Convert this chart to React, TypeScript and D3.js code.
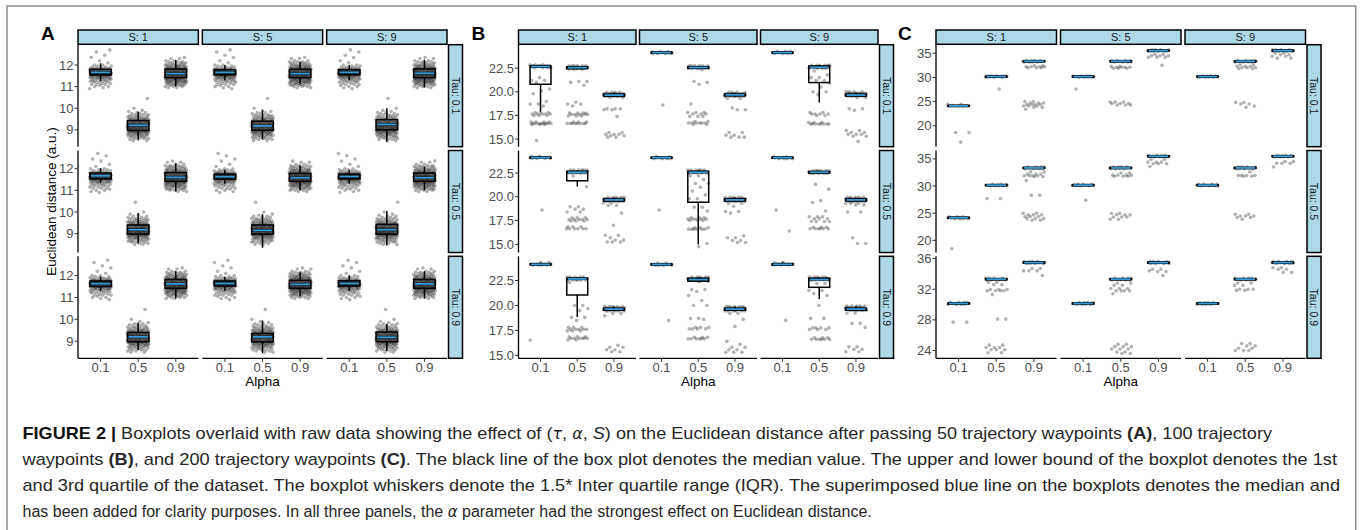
import React from 'react';
import * as d3 from 'd3';

// ---------- categories ----------
const ALPHA_LEVELS = ['0.1', '0.5', '0.9'];
const S_LEVELS = ['S: 1', 'S: 5', 'S: 9'];
const TAU_LEVELS = ['Tau: 0.1', 'Tau: 0.5', 'Tau: 0.9'];

// ---------- Panel A (50 waypoints) ----------
const A_TICKS = [9, 10, 11, 12];
const A_DOMAINS = [[8.22, 12.94], [8.13, 12.84], [8.22, 12.88]];
// boxes[tau][S][alpha] = [lower whisker, q1, median, q3, upper whisker]
const A_BOXES = [
  [[[11.25, 11.54, 11.66, 11.8, 12.08], [8.55, 8.97, 9.21, 9.43, 9.84], [11.0, 11.42, 11.6, 11.81, 12.23]],
   [[11.3, 11.55, 11.66, 11.78, 12.0], [8.55, 8.98, 9.18, 9.4, 9.9], [11.1, 11.42, 11.6, 11.8, 12.15]],
   [[11.3, 11.55, 11.66, 11.78, 12.0], [8.45, 9.0, 9.25, 9.47, 10.0], [10.95, 11.42, 11.62, 11.82, 12.25]]],
  [[[11.36, 11.53, 11.67, 11.8, 12.03], [8.55, 8.98, 9.18, 9.4, 9.95], [10.95, 11.42, 11.6, 11.82, 12.25]],
   [[11.3, 11.52, 11.63, 11.75, 11.95], [8.35, 8.98, 9.15, 9.4, 9.9], [11.0, 11.42, 11.58, 11.78, 12.15]],
   [[11.3, 11.53, 11.64, 11.75, 11.95], [8.45, 8.98, 9.18, 9.43, 10.05], [11.0, 11.42, 11.58, 11.8, 12.1]]],
  [[[11.3, 11.5, 11.63, 11.75, 11.95], [8.6, 8.98, 9.2, 9.4, 9.85], [10.95, 11.42, 11.62, 11.82, 12.2]],
   [[11.3, 11.52, 11.64, 11.75, 11.95], [8.45, 8.97, 9.2, 9.35, 9.95], [11.05, 11.42, 11.6, 11.78, 12.15]],
   [[11.3, 11.52, 11.64, 11.76, 12.0], [8.55, 8.98, 9.18, 9.42, 9.8], [10.95, 11.42, 11.62, 11.82, 12.2]]],
];
// raw observations as [value, count]
const A_PTS_01 = [[10.9, 1], [10.95, 1], [11.0, 2], [11.05, 1], [11.1, 3], [11.15, 2], [11.2, 3], [11.25, 3], [11.3, 4], [11.35, 4], [11.4, 6], [11.45, 6], [11.5, 8], [11.55, 10], [11.6, 12], [11.65, 12], [11.7, 10], [11.75, 8], [11.8, 6], [11.85, 4], [11.9, 3], [11.95, 2], [12.0, 2], [12.1, 1], [12.2, 1], [12.35, 1], [12.45, 1], [12.6, 1], [12.7, 1]];
const A_PTS_05 = [[8.5, 2], [8.55, 2], [8.6, 3], [8.65, 3], [8.7, 4], [8.75, 4], [8.8, 5], [8.85, 6], [8.9, 7], [8.95, 8], [9.0, 9], [9.05, 9], [9.1, 10], [9.15, 10], [9.2, 10], [9.25, 10], [9.3, 9], [9.35, 8], [9.4, 7], [9.45, 6], [9.5, 5], [9.55, 4], [9.6, 4], [9.65, 3], [9.7, 3], [9.75, 2], [9.8, 2], [9.85, 1], [9.9, 1], [10.0, 1], [10.45, 1]];
const A_PTS_09 = [[10.95, 2], [11.0, 3], [11.05, 3], [11.1, 4], [11.15, 5], [11.2, 6], [11.25, 6], [11.3, 7], [11.35, 8], [11.4, 9], [11.45, 9], [11.5, 10], [11.55, 10], [11.6, 10], [11.65, 10], [11.7, 9], [11.75, 9], [11.8, 8], [11.85, 7], [11.9, 6], [11.95, 5], [12.0, 4], [12.05, 4], [12.1, 3], [12.15, 3], [12.2, 2], [12.3, 2], [12.35, 1]];
const A_POINTS = [A_PTS_01, A_PTS_05, A_PTS_09];

// ---------- Panel B (100 waypoints) ----------
const B_TICKS = [15, 17.5, 20, 22.5];
const B_DOMAINS = [[14.19, 24.99], [14.15, 24.86], [14.7, 24.93]];
const B_BOXES = [
  [[[17.9, 20.8, 22.67, 22.74, 22.85], [22.35, 22.45, 22.56, 22.65, 22.75], [19.45, 19.55, 19.65, 19.75, 19.9]],
   [[24.05, 24.1, 24.15, 24.2, 24.25], [22.4, 22.48, 22.58, 22.66, 22.75], [19.5, 19.58, 19.68, 19.75, 19.9]],
   [[24.05, 24.1, 24.15, 24.2, 24.3], [18.87, 20.98, 22.6, 22.74, 22.85], [19.45, 19.55, 19.66, 19.75, 19.95]]],
  [[[24.0, 24.05, 24.1, 24.15, 24.25], [21.08, 21.68, 22.57, 22.67, 22.8], [19.45, 19.55, 19.67, 19.75, 19.9]],
   [[24.0, 24.05, 24.1, 24.15, 24.2], [15.0, 19.43, 22.57, 22.67, 22.8], [19.45, 19.55, 19.67, 19.78, 19.95]],
   [[24.0, 24.05, 24.1, 24.15, 24.2], [22.4, 22.47, 22.57, 22.65, 22.75], [19.45, 19.56, 19.67, 19.77, 19.9]]],
  [[[24.0, 24.07, 24.12, 24.17, 24.3], [18.85, 21.05, 22.66, 22.73, 22.85], [19.4, 19.52, 19.63, 19.72, 19.9]],
   [[24.0, 24.07, 24.12, 24.17, 24.25], [22.3, 22.43, 22.6, 22.73, 22.85], [19.4, 19.52, 19.63, 19.72, 19.9]],
   [[24.0, 24.07, 24.12, 24.17, 24.35], [20.65, 21.82, 22.6, 22.73, 22.85], [19.4, 19.52, 19.63, 19.72, 19.95]]],
];
const B_POINTS = [
  [[[[22.85, 3], [22.75, 10], [22.65, 8], [22.55, 4], [21.5, 1], [21.2, 2], [21.0, 1], [20.3, 1], [20.1, 1], [19.8, 1], [19.0, 1], [18.7, 2], [18.5, 1], [17.8, 3], [17.65, 5], [17.5, 3], [16.8, 4], [16.65, 8], [16.55, 3], [14.85, 1]],
    [[22.75, 6], [22.6, 10], [22.5, 8], [22.4, 3], [21.1, 2], [21.0, 1], [20.7, 1], [18.9, 1], [18.7, 2], [18.5, 1], [17.75, 4], [17.6, 5], [17.45, 3], [16.8, 3], [16.65, 8]],
    [[19.95, 4], [19.8, 10], [19.65, 12], [19.5, 6], [19.4, 2], [18.2, 3], [18.1, 2], [17.4, 1], [15.7, 2], [15.5, 3], [15.35, 2], [15.2, 2]]],
   [[[24.25, 3], [24.15, 12], [24.05, 4], [18.6, 1]],
    [[22.75, 6], [22.6, 10], [22.5, 6], [22.35, 1], [21.1, 1], [21.0, 1], [20.8, 1], [18.7, 1], [17.8, 3], [17.65, 3], [17.4, 3], [16.85, 2], [16.7, 6], [16.55, 2]],
    [[19.95, 4], [19.8, 10], [19.65, 12], [19.5, 6], [19.3, 2], [18.3, 1], [18.1, 2], [15.7, 2], [15.4, 2], [15.2, 3]]],
   [[[24.3, 3], [24.15, 12], [24.05, 4]],
    [[22.8, 6], [22.65, 10], [22.5, 4], [22.2, 1], [21.8, 1], [21.5, 2], [21.2, 2], [20.9, 1], [20.5, 1], [20.0, 2], [19.7, 1], [17.8, 2], [17.65, 4], [17.5, 2], [16.75, 3], [16.6, 8]],
    [[20.0, 4], [19.85, 10], [19.7, 12], [19.55, 6], [19.4, 2], [18.2, 2], [18.05, 1], [15.9, 2], [15.7, 2], [15.5, 3], [15.3, 2], [14.75, 1]]]],
  [[[[24.25, 2], [24.12, 12], [24.02, 4], [18.6, 1]],
    [[22.8, 6], [22.65, 10], [22.5, 6], [22.2, 1], [21.05, 1], [18.95, 2], [18.7, 2], [18.4, 2], [17.8, 3], [17.6, 5], [17.45, 3], [16.85, 3], [16.65, 6]],
    [[19.95, 5], [19.8, 10], [19.65, 12], [19.5, 6], [19.35, 2], [19.1, 2], [18.3, 1], [17.0, 1], [15.95, 2], [15.7, 1], [15.45, 2], [15.25, 3]]],
   [[[24.2, 2], [24.1, 12], [24.0, 4], [18.6, 1]],
    [[22.8, 6], [22.65, 10], [22.5, 5], [22.2, 2], [21.8, 1], [21.4, 2], [21.0, 1], [20.6, 1], [20.2, 1], [19.8, 2], [18.9, 2], [18.5, 1], [17.8, 3], [17.65, 5], [17.5, 3], [16.75, 3], [16.6, 6], [15.1, 1], [14.75, 1]],
    [[19.95, 5], [19.8, 10], [19.65, 12], [19.5, 6], [19.3, 2], [19.0, 1], [18.45, 2], [18.3, 1], [15.9, 1], [15.7, 2], [15.4, 2], [15.2, 2]]],
   [[[24.2, 2], [24.1, 12], [24.0, 4], [18.6, 1], [16.4, 1]],
    [[22.75, 6], [22.6, 10], [22.45, 5], [21.3, 1], [20.8, 1], [19.6, 1], [19.4, 1], [18.5, 1], [17.9, 3], [17.7, 3], [17.4, 4], [16.8, 3], [16.65, 6]],
    [[19.95, 5], [19.8, 10], [19.65, 12], [19.5, 6], [19.3, 3], [19.15, 2], [18.4, 2], [15.7, 1], [15.1, 2]]]],
  [[[[24.3, 2], [24.15, 12], [24.05, 4], [16.5, 1]],
    [[22.85, 5], [22.7, 10], [22.55, 6], [22.3, 1], [20.0, 2], [19.7, 1], [19.5, 1], [18.8, 2], [18.5, 1], [17.8, 3], [17.6, 5], [17.45, 3], [16.85, 3], [16.7, 6], [16.55, 2]],
    [[19.9, 5], [19.75, 10], [19.6, 12], [19.45, 6], [19.2, 2], [18.95, 1], [16.0, 1], [15.8, 2], [15.55, 2], [15.35, 2]]],
   [[[24.25, 2], [24.12, 12], [24.02, 4], [18.5, 1]],
    [[22.85, 5], [22.7, 10], [22.55, 6], [22.4, 2], [21.6, 2], [21.4, 1], [21.0, 1], [20.5, 1], [20.0, 2], [18.7, 2], [18.6, 1], [17.8, 3], [17.65, 4], [16.8, 3], [16.65, 6]],
    [[19.9, 5], [19.75, 10], [19.6, 12], [19.45, 6], [19.2, 2], [18.6, 1], [17.9, 1], [16.4, 1], [16.1, 1], [15.8, 2], [15.55, 2], [15.3, 3]]],
   [[[24.3, 2], [24.15, 12], [24.05, 4], [18.5, 1]],
    [[22.85, 5], [22.7, 10], [22.55, 6], [22.2, 2], [21.5, 2], [21.2, 1], [21.0, 1], [20.0, 1], [18.7, 2], [17.75, 4], [17.6, 3], [16.75, 3], [16.6, 6]],
    [[19.95, 5], [19.8, 10], [19.65, 12], [19.5, 6], [19.25, 2], [18.2, 2], [17.8, 1], [15.85, 2], [15.6, 2], [15.35, 2]]]],
];

// ---------- Panel C (200 waypoints) ----------
const C_TICKS_TOP = [20, 25, 30, 35];
const C_TICKS_BOTTOM = [24, 28, 32, 36];
const C_DOMAINS = [[15.66, 36.78], [17.77, 36.54], [22.98, 36.3]];
const C_BOXES = [
  [[[24.0, 24.05, 24.11, 24.17, 24.25], [30.05, 30.1, 30.17, 30.24, 30.3], [33.2, 33.27, 33.35, 33.42, 33.5]],
   [[30.05, 30.1, 30.17, 30.24, 30.3], [33.2, 33.27, 33.35, 33.42, 33.5], [35.4, 35.46, 35.54, 35.62, 35.7]],
   [[30.05, 30.1, 30.17, 30.24, 30.3], [33.2, 33.27, 33.35, 33.42, 33.5], [35.4, 35.46, 35.54, 35.62, 35.7]]],
  [[[24.0, 24.08, 24.15, 24.22, 24.3], [30.05, 30.1, 30.16, 30.23, 30.3], [33.2, 33.26, 33.33, 33.4, 33.5]],
   [[30.05, 30.1, 30.16, 30.23, 30.3], [33.2, 33.26, 33.33, 33.4, 33.5], [35.35, 35.41, 35.48, 35.56, 35.65]],
   [[30.05, 30.1, 30.16, 30.23, 30.3], [33.2, 33.26, 33.33, 33.4, 33.5], [35.35, 35.41, 35.48, 35.56, 35.65]]],
  [[[30.0, 30.08, 30.14, 30.2, 30.3], [33.2, 33.25, 33.31, 33.38, 33.45], [35.35, 35.41, 35.47, 35.54, 35.6]],
   [[30.0, 30.08, 30.14, 30.2, 30.25], [33.2, 33.25, 33.31, 33.38, 33.45], [35.35, 35.41, 35.47, 35.54, 35.6]],
   [[30.0, 30.08, 30.14, 30.2, 30.25], [33.2, 33.25, 33.31, 33.38, 33.45], [35.35, 35.41, 35.47, 35.54, 35.6]]],
];
const C_POINTS = [
  [[[[24.45, 2], [24.2, 10], [24.05, 8], [18.6, 2], [16.6, 1]],
    [[30.3, 4], [30.17, 12], [30.05, 4], [27.6, 1]],
    [[33.5, 4], [33.35, 12], [33.2, 4], [32.4, 2], [32.2, 4], [32.0, 3], [25.0, 2], [24.7, 3], [24.4, 4], [24.1, 3], [23.8, 2], [23.4, 1]]],
   [[[30.3, 4], [30.17, 12], [30.05, 4], [27.6, 1]],
    [[33.5, 4], [33.35, 12], [33.2, 4], [32.3, 2], [32.1, 4], [31.9, 3], [24.9, 3], [24.6, 3], [24.3, 3]],
    [[35.7, 4], [35.54, 12], [35.4, 4], [34.8, 2], [34.5, 3], [34.2, 3], [32.5, 1]]],
   [[[30.3, 4], [30.17, 12], [30.05, 4]],
    [[33.5, 4], [33.35, 12], [33.2, 4], [32.6, 2], [32.3, 3], [32.0, 3], [31.8, 2], [24.8, 2], [24.5, 2], [24.1, 1], [23.8, 1]],
    [[35.7, 4], [35.54, 12], [35.4, 4], [35.0, 2], [34.7, 2], [34.4, 2], [34.0, 2]]]],
  [[[[24.35, 3], [24.15, 12], [24.0, 4], [18.45, 1]],
    [[30.3, 4], [30.16, 12], [30.05, 4], [27.7, 2]],
    [[33.5, 4], [33.33, 12], [33.2, 4], [32.6, 2], [32.2, 3], [31.9, 4], [31.7, 2], [31.0, 1], [28.3, 2], [25.0, 2], [24.7, 3], [24.4, 3], [24.0, 3], [23.7, 2]]],
   [[[30.3, 4], [30.16, 12], [30.05, 4], [27.4, 1]],
    [[33.5, 4], [33.33, 12], [33.2, 4], [32.4, 2], [32.0, 4], [31.8, 3], [25.0, 2], [24.7, 3], [24.3, 3], [23.9, 2]],
    [[35.65, 4], [35.48, 12], [35.35, 4], [34.9, 2], [34.4, 3], [34.1, 3], [33.6, 1]]],
   [[[30.3, 4], [30.16, 12], [30.05, 4]],
    [[33.5, 4], [33.33, 12], [33.2, 4], [32.6, 1], [31.95, 4], [31.8, 2], [24.8, 2], [24.5, 3], [24.2, 2], [23.9, 1]],
    [[35.65, 4], [35.48, 12], [35.35, 4], [34.5, 2], [34.2, 3], [33.5, 1]]]],
  [[[[30.3, 4], [30.14, 12], [30.0, 4], [27.7, 2]],
    [[33.45, 4], [33.31, 12], [33.2, 4], [32.9, 2], [32.6, 2], [31.95, 3], [31.8, 4], [31.3, 1], [28.1, 2], [24.7, 2], [24.4, 3], [24.1, 3], [23.7, 2]],
    [[35.6, 4], [35.47, 12], [35.35, 4], [34.7, 2], [34.4, 3], [33.8, 1]]],
   [[[30.25, 4], [30.14, 12], [30.0, 4]],
    [[33.45, 4], [33.31, 12], [33.2, 4], [32.8, 2], [32.5, 2], [32.1, 3], [31.8, 4], [31.4, 1], [24.8, 2], [24.5, 3], [24.2, 3], [23.8, 2], [23.6, 2]],
    [[35.6, 4], [35.47, 12], [35.35, 4], [34.6, 2], [34.3, 2], [34.4, 1], [33.8, 1]]],
   [[[30.25, 4], [30.14, 12], [30.0, 4]],
    [[33.45, 4], [33.31, 12], [33.2, 4], [32.8, 2], [32.5, 2], [32.0, 3], [31.85, 2], [24.9, 2], [24.6, 2], [24.3, 2], [24.0, 3]],
    [[35.6, 4], [35.47, 12], [35.35, 4], [34.8, 2], [34.6, 2], [34.2, 2]]]],
];

// ---------- caption ----------
const CAPTION_LINES = [
  [['FIGURE 2 | ', 'b'], ['Boxplots overlaid with raw data showing the effect of (', ''], ['τ', 'g'], [', ', ''], ['α', 'g'], [', ', ''], ['S', 'i'], [') on the Euclidean distance after passing 50 trajectory waypoints ', ''], ['(A)', 'b'], [', 100 trajectory', '']],
  [['waypoints ', ''], ['(B)', 'b'], [', and 200 trajectory waypoints ', ''], ['(C)', 'b'], ['. The black line of the box plot denotes the median value. The upper and lower bound of the boxplot denotes the 1st', '']],
  [['and 3rd quartile of the dataset. The boxplot whiskers denote the 1.5* Inter quartile range (IQR). The superimposed blue line on the boxplots denotes the median and', '']],
  [['has been added for clarity purposes. In all three panels, the ', ''], ['α', 'g'], [' parameter had the strongest effect on Euclidean distance.', '']],
];

// ---------- layout ----------
const W = 1363, H = 530;
const ROW_TOP = 44.7, ROW_H = 102, ROW_GAP = 3.8;
const STRIP_TOP = 30, STRIP_H = 14.3;
const FONT = 'Liberation Sans, Arial, Helvetica, sans-serif';
const BLUE = '#3A9BD9';
const STRIP_FILL = '#ADD8E6';

const PANELS = [
  { label: 'A', labelX: 41, left: 78, right: 447, gap: 4, boxes: A_BOXES, pts: (r, c, a) => A_POINTS[a], domains: A_DOMAINS, ticks: [A_TICKS, A_TICKS, A_TICKS], fmt: d3.format('d'), yTitle: true },
  { label: 'B', labelX: 471.5, left: 518.5, right: 878, gap: 3.5, boxes: B_BOXES, pts: (r, c, a) => B_POINTS[r][c][a], domains: B_DOMAINS, ticks: [B_TICKS, B_TICKS, B_TICKS], fmt: d3.format('.1f'), yTitle: false },
  { label: 'C', labelX: 898, left: 936, right: 1305.5, gap: 4, boxes: C_BOXES, pts: (r, c, a) => C_POINTS[r][c][a], domains: C_DOMAINS, ticks: [C_TICKS_TOP, C_TICKS_TOP, C_TICKS_BOTTOM], fmt: d3.format('d'), yTitle: false },
];

const rowTop = (r) => ROW_TOP + r * (ROW_H + ROW_GAP);

function Panel({ p }) {
  const colW = (p.right - p.left - 2 * p.gap) / 3;
  const colX = (c) => p.left + c * (colW + p.gap);
  const bottom = rowTop(2) + ROW_H;
  const els = [];

  // top strips
  S_LEVELS.forEach((s, c) => {
    els.push(
      <g key={'st' + c}>
        <rect x={colX(c)} y={STRIP_TOP} width={colW} height={STRIP_H} fill={STRIP_FILL} stroke="#000" strokeWidth={1.5} />
        <text x={colX(c) + colW / 2} y={STRIP_TOP + STRIP_H / 2 + 4} textAnchor="middle" fontSize={11} fill="#1A1A1A" fontFamily={FONT}>{s}</text>
      </g>
    );
  });

  TAU_LEVELS.forEach((t, r) => {
    const y0 = rowTop(r);
    const y1 = y0 + ROW_H;
    const yScale = d3.scaleLinear().domain(p.domains[r]).range([y1, y0]);
    // right strip
    const sx = p.right + 1.5;
    els.push(
      <g key={'rs' + r}>
        <rect x={sx} y={y0} width={14} height={ROW_H} fill={STRIP_FILL} stroke="#000" strokeWidth={1.5} />
        <text transform={`translate(${sx + 7 - 3.8},${(y0 + y1) / 2}) rotate(90)`} textAnchor="middle" fontSize={10.5} fill="#1A1A1A" fontFamily={FONT}>{t}</text>
      </g>
    );
    // y axis
    els.push(<line key={'ya' + r} x1={p.left} x2={p.left} y1={y0} y2={y1} stroke="#000" strokeWidth={1.3} />);
    p.ticks[r].forEach((tv, i) => {
      const ty = yScale(tv);
      els.push(
        <g key={'yt' + r + '_' + i}>
          <line x1={p.left - 3.5} x2={p.left} y1={ty} y2={ty} stroke="#333" strokeWidth={1} />
          <text x={p.left - 4.5} y={ty + 4.6} textAnchor="end" fontSize={13} fill="#4D4D4D" fontFamily={FONT}>{p.fmt(tv)}</text>
        </g>
      );
    });

    S_LEVELS.forEach((s, c) => {
      const x0 = colX(c);
      const xScale = d3.scalePoint().domain(ALPHA_LEVELS).range([x0, x0 + colW]).padding(0.6);
      const step = xScale.step();
      const bw = step * 0.57;
      const jw = step * 0.29;
      ALPHA_LEVELS.forEach((al, a) => {
        const cx = xScale(al);
        const [lo, q1, med, q3, hi] = p.boxes[r][c][a];
        const seed = r * 9 + c * 3 + a;
        const key = `g${r}${c}${a}`;
        // box
        els.push(
          <g key={key + 'b'}>
            <line x1={cx} x2={cx} y1={yScale(hi)} y2={yScale(q3)} stroke="#000" strokeWidth={1.5} />
            <line x1={cx} x2={cx} y1={yScale(q1)} y2={yScale(lo)} stroke="#000" strokeWidth={1.5} />
            <rect x={cx - bw / 2} y={yScale(q3)} width={bw} height={Math.max(0.5, yScale(q1) - yScale(q3))} fill="#fff" stroke="#000" strokeWidth={1.5} />
            <line x1={cx - bw / 2} x2={cx + bw / 2} y1={yScale(med)} y2={yScale(med)} stroke="#000" strokeWidth={2.4} />
          </g>
        );
        // jittered raw points
        const pts = p.pts(r, c, a);
        const circles = [];
        let k = 0;
        pts.forEach(([v, n]) => {
          for (let j = 0; j < n; j++) {
            const u = ((k * 0.6180339887 + seed * 0.2718) % 1 + 1) % 1;
            circles.push(<circle key={k} cx={cx + (2 * u - 1) * jw} cy={yScale(v)} r={1.8} fill="#000" fillOpacity={0.3} />);
            k++;
          }
        });
        els.push(<g key={key + 'p'}>{circles}</g>);
        // blue median
        els.push(<line key={key + 'm'} x1={cx - bw / 2 + 1} x2={cx + bw / 2 - 1} y1={yScale(med)} y2={yScale(med)} stroke={BLUE} strokeWidth={1.8} />);
      });

      if (r === 2) {
        els.push(<line key={'xa' + c} x1={x0} x2={x0 + colW} y1={bottom} y2={bottom} stroke="#000" strokeWidth={1.3} />);
        ALPHA_LEVELS.forEach((al, a) => {
          const tx = xScale(al);
          els.push(
            <g key={'xt' + c + '_' + a}>
              <line x1={tx} x2={tx} y1={bottom} y2={bottom + 3.5} stroke="#333" strokeWidth={1} />
              <text x={tx} y={bottom + 13.2} textAnchor="middle" fontSize={13} fill="#4D4D4D" fontFamily={FONT}>{al}</text>
            </g>
          );
        });
      }
    });
  });

  els.push(<text key="alpha" x={(p.left + p.right) / 2} y={386} textAnchor="middle" fontSize={13.5} fill="#000" fontFamily={FONT}>Alpha</text>);
  els.push(<text key="lab" x={p.labelX} y={40} fontSize={19} fontWeight="bold" fill="#000" fontFamily={FONT}>{p.label}</text>);
  if (p.yTitle) {
    els.push(<text key="yt" transform={`translate(55.5,${(ROW_TOP + bottom) / 2}) rotate(-90)`} textAnchor="middle" fontSize={13.5} fill="#000" fontFamily={FONT}>Euclidean distance (a.u.)</text>);
  }
  return <g>{els}</g>;
}

const CAPTION_Y = [439, 465, 491, 517];
const CAPTION_END = [1272, 1337, 1340, null];

export default function App() {
  return (
    <svg width={W} height={H} style={{ position: 'absolute', left: 0, top: 0, background: '#fff' }} xmlns="http://www.w3.org/2000/svg">
      <rect x={0} y={0} width={W} height={H} fill="#fff" />
      <path d={`M7,${H + 5} L7,6 L1355.7,6 L1355.7,${H + 5}`} fill="none" stroke="#8a8a8a" strokeWidth={1.5} />
      {PANELS.map((p) => <Panel key={p.label} p={p} />)}
      {CAPTION_LINES.map((segs, i) => (
        <text key={'cap' + i} x={22.5} y={CAPTION_Y[i]} fontSize={CAPTION_END[i] ? 17 : 16} fill="#262626" fontFamily={FONT}
          textLength={CAPTION_END[i] ? CAPTION_END[i] - 22.5 : undefined}
          lengthAdjust={CAPTION_END[i] ? 'spacingAndGlyphs' : undefined}>
          {segs.map(([t, s], j) => (
            <tspan key={j}
              fontSize={s === 'g' ? 15 : undefined}
              fontFamily={s === 'g' ? 'DejaVu Sans, sans-serif' : undefined}
              fontWeight={s === 'b' ? 'bold' : 'normal'}
              fontStyle={s === 'i' || s === 'g' ? 'italic' : 'normal'}
              fill={s === 'b' && i === 0 && j === 0 ? '#111' : undefined}>{t}</tspan>
          ))}
        </text>
      ))}
    </svg>
  );
}
